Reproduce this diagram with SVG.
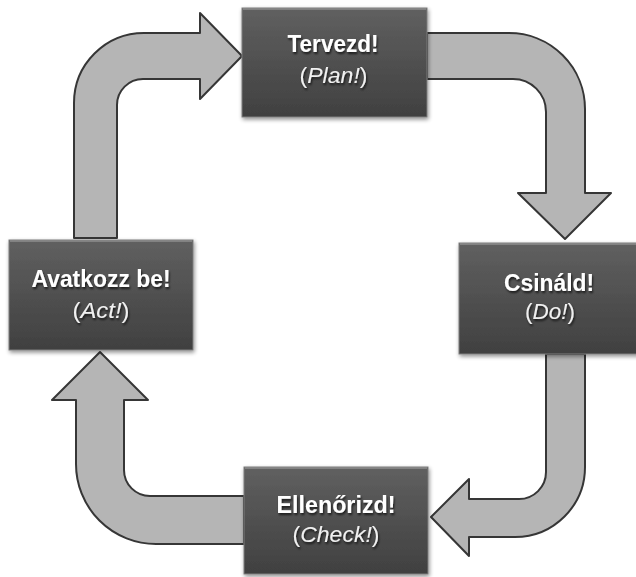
<svg xmlns="http://www.w3.org/2000/svg" width="636" height="577" viewBox="0 0 636 577">
  <defs>
    <linearGradient id="boxGrad" x1="0" y1="0" x2="0" y2="1">
      <stop offset="0" stop-color="#606060"/>
      <stop offset="1" stop-color="#404040"/>
    </linearGradient>
    <filter id="shadow" x="-10%" y="-10%" width="125%" height="130%">
      <feGaussianBlur in="SourceAlpha" stdDeviation="2"/>
      <feOffset dx="1" dy="2" result="b"/>
      <feComponentTransfer><feFuncA type="linear" slope="0.45"/></feComponentTransfer>
      <feMerge><feMergeNode/><feMergeNode in="SourceGraphic"/></feMerge>
    </filter>
    <filter id="tshadow" x="-10%" y="-30%" width="120%" height="160%">
      <feGaussianBlur in="SourceAlpha" stdDeviation="1.2"/>
      <feOffset dx="1" dy="1.5"/>
      <feComponentTransfer><feFuncA type="linear" slope="0.7"/></feComponentTransfer>
      <feMerge><feMergeNode/><feMergeNode in="SourceGraphic"/></feMerge>
    </filter>
  </defs>
  <style>
    .arrow { fill: #b5b5b5; stroke: #363636; stroke-width: 2; stroke-linejoin: round; }
    .box { fill: url(#boxGrad); stroke: #7c7c7c; stroke-width: 1; filter: url(#shadow); }
    .hl { stroke: #8e8e8e; stroke-width: 1.5; }
    .title { font-family: "Liberation Sans", Arial, sans-serif; font-weight: bold; font-size: 23px; fill: #ffffff; text-anchor: middle; filter: url(#tshadow); }
    .sub { font-family: "Liberation Sans", Arial, sans-serif; font-size: 22px; fill: #f0f0f0; text-anchor: middle; filter: url(#tshadow); }
    .it { font-style: italic; }
  </style>
  <rect width="636" height="577" fill="#ffffff"/>

  <g id="connectors">
    <path class="arrow" d="M74,238 L74,103 A70,70 0 0 1 144,33 L200,33 L200,13 L242,56 L200,99 L200,79 L143,79 A26,26 0 0 0 117,105 L117,238 Z"/>
    <path class="arrow" d="M427,33 L509,33 A76,76 0 0 1 585,109 L585,193 L611,193 L565,239 L518,193 L546,193 L546,112 A33,33 0 0 0 513,79 L427,79 Z"/>
    <path class="arrow" d="M546,354 L585,354 L585,467 A70,70 0 0 1 515,537 L469,537 L469,556 L431,517 L469,479 L469,499 L519,499 A27,27 0 0 0 546,472 Z"/>
    <path class="arrow" d="M244,496 L150,496 A26,26 0 0 1 124,470 L124,400 L148,400 L100,352 L52,400 L76,400 L76,464 A80,80 0 0 0 156,544 L244,544 Z"/>
  </g>

  <g id="plan">
    <rect class="box" x="242" y="8" width="185" height="109"/>
    <line class="hl" x1="243" y1="9" x2="426" y2="9"/>
    <text class="title" x="333" y="52" textLength="91" lengthAdjust="spacingAndGlyphs">Tervezd!</text>
    <text class="sub" x="333.5" y="83" textLength="68" lengthAdjust="spacingAndGlyphs">(<tspan class="it">Plan!</tspan>)</text>
  </g>

  <g id="do">
    <rect class="box" x="459" y="243" width="185" height="111"/>
    <line class="hl" x1="460" y1="244" x2="636" y2="244"/>
    <text class="title" x="549" y="291" textLength="90" lengthAdjust="spacingAndGlyphs">Csináld!</text>
    <text class="sub" x="550" y="319" textLength="50" lengthAdjust="spacingAndGlyphs">(<tspan class="it">Do!</tspan>)</text>
  </g>

  <g id="check">
    <rect class="box" x="244" y="467" width="184" height="107"/>
    <line class="hl" x1="245" y1="468" x2="427" y2="468"/>
    <text class="title" x="336" y="513" textLength="119" lengthAdjust="spacingAndGlyphs">Ellenőrizd!</text>
    <text class="sub" x="336" y="542" textLength="87" lengthAdjust="spacingAndGlyphs">(<tspan class="it">Check!</tspan>)</text>
  </g>

  <g id="act">
    <rect class="box" x="9" y="240" width="184" height="110"/>
    <line class="hl" x1="10" y1="241" x2="192" y2="241"/>
    <text class="title" x="101" y="287" textLength="139" lengthAdjust="spacingAndGlyphs">Avatkozz be!</text>
    <text class="sub" x="101" y="318" textLength="57" lengthAdjust="spacingAndGlyphs">(<tspan class="it">Act!</tspan>)</text>
  </g>
</svg>
